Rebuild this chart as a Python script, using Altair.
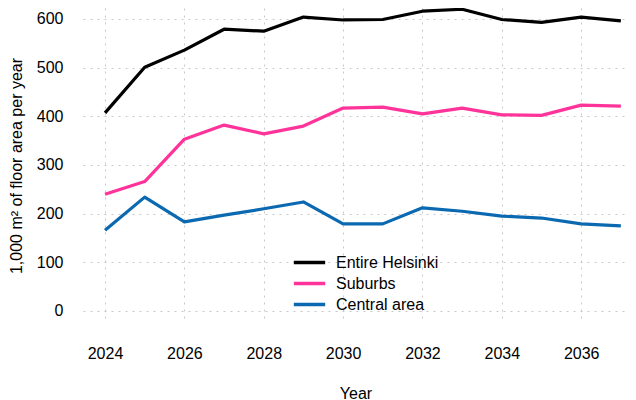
import altair as alt
import pandas as pd

years = list(range(2024, 2038))
entire = [407, 501, 536, 579, 575, 604, 598, 599, 616, 620, 599, 593, 604, 596]
suburbs = [240, 266, 353, 382, 364, 380, 417, 419, 405, 417, 403, 402, 423, 421]
central = [166, 234, 183, 197, 210, 224, 179, 179, 212, 205, 195, 191, 179, 175]
series_names = ["Entire Helsinki", "Suburbs", "Central area"]
series_colors = ["#000000", "#ff3399", "#0a69b1"]
x_ticks = [2024, 2026, 2028, 2030, 2032, 2034, 2036]
y_ticks = [0, 100, 200, 300, 400, 500, 600]

rows = []
for name, vals in zip(series_names, [entire, suburbs, central]):
    for y, v in zip(years, vals):
        rows.append({"Year": y, "Value": v, "Series": name})
df = pd.DataFrame(rows)

font = "Liberation Sans"

chart = alt.Chart(df).mark_line(strokeWidth=3.2, strokeJoin="round").encode(
    x=alt.X("Year:Q",
            scale=alt.Scale(domain=[2023.445, 2037.18], nice=False, zero=False),
            axis=alt.Axis(values=x_ticks, format="d", title="Year",
                          labelPadding=22, titlePadding=24)),
    y=alt.Y("Value:Q",
            scale=alt.Scale(domain=[-24.7, 622.6], nice=False, zero=False),
            axis=alt.Axis(values=y_ticks, title="1,000 m² of floor area per year",
                          labelPadding=20, titlePadding=12)),
    color=alt.Color("Series:N",
                    scale=alt.Scale(domain=series_names, range=series_colors),
                    sort=series_names,
                    legend=alt.Legend(title=None, orient="none", legendX=215, legendY=243,
                                      symbolType="M-1.65,0H1.65", symbolSize=361,
                                      symbolStrokeWidth=3.6, labelOffset=15,
                                      rowPadding=1, padding=0, offset=0,
                                      labelFontSize=16, labelFont=font,
                                      labelColor="#000000")),
).properties(
    width=545, height=315,
    autosize=alt.AutoSizeParams(type="none"),
    padding={"left": 75, "top": 0, "right": 0, "bottom": 77},
).configure_view(stroke=None).configure_axis(
    domain=False, ticks=False,
    grid=True, gridColor="#c8c8c8", gridDash=[2, 5], gridWidth=1,
    labelFont=font, titleFont=font, labelFontSize=16, titleFontSize=16,
    labelColor="#000000", titleColor="#000000", titleFontWeight="normal",
)

chart.save("out.html", embed_options={"renderer": "svg", "actions": False})
